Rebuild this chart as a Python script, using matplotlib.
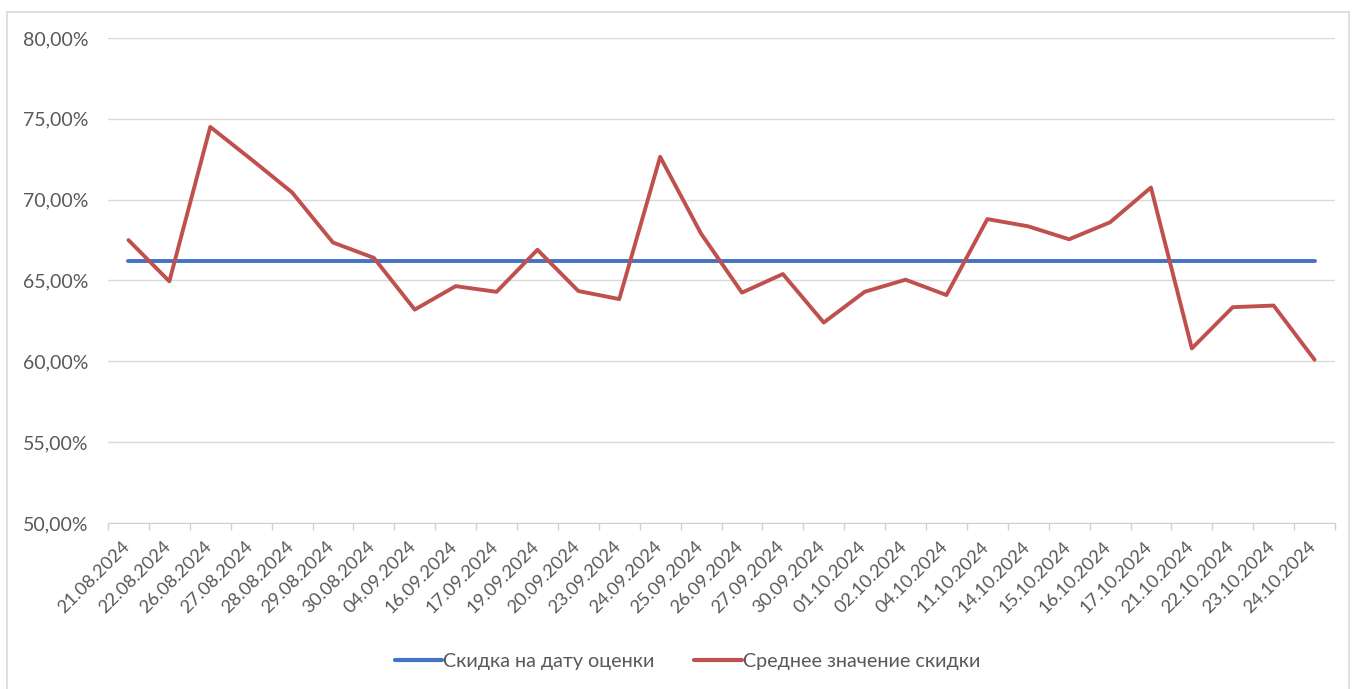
import matplotlib
matplotlib.use("Agg")
import matplotlib.pyplot as plt
from matplotlib.ticker import FuncFormatter, FixedLocator
from matplotlib.patches import Rectangle
from matplotlib.transforms import ScaledTranslation

plt.rcParams['font.family'] = ['Lato', 'DejaVu Sans']

dates = ["21.08.2024", "22.08.2024", "26.08.2024", "27.08.2024", "28.08.2024",
         "29.08.2024", "30.08.2024", "04.09.2024", "16.09.2024", "17.09.2024",
         "19.09.2024", "20.09.2024", "23.09.2024", "24.09.2024", "25.09.2024",
         "26.09.2024", "27.09.2024", "30.09.2024", "01.10.2024", "02.10.2024",
         "04.10.2024", "11.10.2024", "14.10.2024", "15.10.2024", "16.10.2024",
         "17.10.2024", "21.10.2024", "22.10.2024", "23.10.2024", "24.10.2024"]

# discount on valuation date (flat)
valuation_discount = [66.2] * len(dates)

# average discount
avg_discount = [67.5, 64.95, 74.5, 72.5, 70.45, 67.35, 66.4, 63.2, 64.65, 64.3,
                66.9, 64.35, 63.85, 72.65, 67.9, 64.25, 65.4, 62.4, 64.3, 65.05,
                64.1, 68.8, 68.35, 67.55, 68.6, 70.75, 60.8, 63.35, 63.45, 60.1]

legend_labels = ["Скидка на дату оценки", "Среднее значение скидки"]

W, H = 1352, 689
fig = plt.figure(figsize=(W / 100, H / 100), dpi=100)

# chart border
fig.patches.append(Rectangle((7 / W, -0.05), (1349 - 7) / W, 1 - 12 / H + 0.05,
                             transform=fig.transFigure, fill=False,
                             edgecolor='#d9d9d9', lw=1.2, zorder=1))

ax = fig.add_axes([108 / W, 1 - 523 / H, (1335 - 108) / W, (523 - 38) / H])
ax.patch.set_alpha(0)

x = list(range(len(dates)))
ax.plot(x, valuation_discount, color='#4472C4', lw=2.8, solid_capstyle='round',
        label=legend_labels[0], zorder=3)
ax.plot(x, avg_discount, color='#C0504D', lw=2.8, solid_capstyle='round',
        label=legend_labels[1], zorder=4)

ax.set_xlim(-0.5, len(dates) - 0.5)
ax.set_ylim(50, 80)
ax.set_yticks(range(50, 81, 5))
ax.yaxis.set_major_formatter(FuncFormatter(lambda v, p: f"{v:.2f}".replace('.', ',') + "%"))
ax.grid(axis='y', color='#d9d9d9', lw=1)
ax.set_axisbelow(True)

for s in ['top', 'right', 'left']:
    ax.spines[s].set_visible(False)
ax.spines['bottom'].set_color('#d0d0d0')

ax.set_xticks(x)
ax.set_xticklabels(dates, rotation=45, ha='right', rotation_mode='anchor')
ax.xaxis.set_minor_locator(FixedLocator([i - 0.5 for i in range(len(dates) + 1)]))
ax.tick_params(axis='x', which='major', length=0, pad=6, labelsize=13.2, labelcolor='#595959')
ax.tick_params(axis='x', which='minor', length=5, color='#d0d0d0', width=1)
ax.tick_params(axis='y', length=0, pad=14, labelsize=14, labelcolor='#595959')

shift = ScaledTranslation(-0.07, -0.07, fig.dpi_scale_trans)
for lbl in ax.get_xticklabels():
    lbl.set_transform(lbl.get_transform() + shift)

leg = fig.legend(loc='center', bbox_to_anchor=(0.5085, 1 - 661 / H), ncol=2,
                 frameon=False, fontsize=14.2, handlelength=2.4, handletextpad=0.05,
                 columnspacing=2.0, labelcolor='#595959')
for line in leg.get_lines():
    line.set_linewidth(3)

fig.savefig("out.png", dpi=100)
